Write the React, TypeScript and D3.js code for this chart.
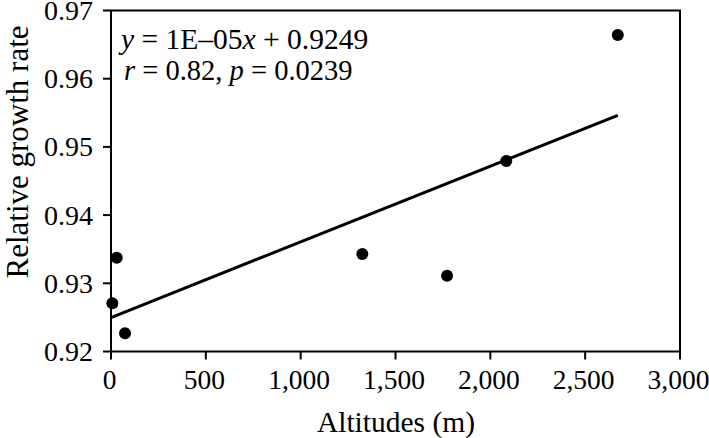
import React from "react";
import * as d3 from "d3";

const altitudes = [7, 30, 74, 1325, 1772, 2084, 2672];
const growthRates = [0.92707, 0.93375, 0.92267, 0.9343, 0.93111, 0.94793, 0.96641];
const xTicks = [0, 500, 1000, 1500, 2000, 2500, 3000];
const yTicks = [0.92, 0.93, 0.94, 0.95, 0.96, 0.97];
const equationLine = "1E\u201305";
const statsR = "0.82";
const statsP = "0.0239";
const interceptLabel = "0.9249";

export default function App() {
  const W = 709, H = 438;
  const left = 111, right = 680, top = 10.5, bottom = 351.5;
  const x = d3.scaleLinear().domain([0, 3000]).range([left, right]);
  const y = d3.scaleLinear().domain([0.92, 0.97]).range([bottom, top]);
  const font = "'Liberation Serif', 'Times New Roman', serif";

  const mx = d3.mean(altitudes)!;
  const my = d3.mean(growthRates)!;
  let sxy = 0, sxx = 0;
  altitudes.forEach((a, i) => { sxy += (a - mx) * (growthRates[i] - my); sxx += (a - mx) ** 2; });
  const slope = sxy / sxx;
  const intercept = my - slope * mx;
  const xMax = d3.max(altitudes)!;
  const line = d3.line<number>().x((d) => x(d)).y((d) => y(intercept + slope * d));

  return (
    <svg width={W} height={H} style={{ position: "absolute", left: 0, top: 0, background: "#fff" }} fontFamily={font}>
      <rect x={left} y={top} width={right - left} height={bottom - top} fill="none" stroke="#000" strokeWidth={2} />
      {yTicks.map((t) => (
        <g key={t}>
          <line x1={left - 8} x2={left} y1={y(t)} y2={y(t)} stroke="#000" strokeWidth={2} />
          <text x={93} y={y(t)} dy="0.34em" textAnchor="end" fontSize={28}>{t.toFixed(2)}</text>
        </g>
      ))}
      {xTicks.map((t) => (
        <g key={t}>
          <line x1={x(t)} x2={x(t)} y1={bottom} y2={bottom + 8} stroke="#000" strokeWidth={2} />
          <text x={x(t) - 1.5} y={389} textAnchor="middle" fontSize={27.5}>{d3.format(",")(t)}</text>
        </g>
      ))}
      <text x={(left + right) / 2 + 0.5} y={432} textAnchor="middle" fontSize={29.5}>Altitudes (m)</text>
      <text transform={`translate(27.5,152) rotate(-90)`} textAnchor="middle" fontSize={31}>Relative growth rate</text>
      <path d={line([0, xMax])!} stroke="#000" strokeWidth={3} fill="none" />
      {altitudes.map((a, i) => (
        <circle key={i} cx={x(a)} cy={y(growthRates[i])} r={6} fill="#000" />
      ))}
      <text x={121} y={49} fontSize={29.5}>
        <tspan fontStyle="italic">y</tspan> = {equationLine}<tspan fontStyle="italic">x</tspan> + {interceptLabel}
      </text>
      <text x={124} y={80} fontSize={28.5}>
        <tspan fontStyle="italic">r</tspan> = {statsR}, <tspan fontStyle="italic">p</tspan> = {statsP}
      </text>
    </svg>
  );
}
